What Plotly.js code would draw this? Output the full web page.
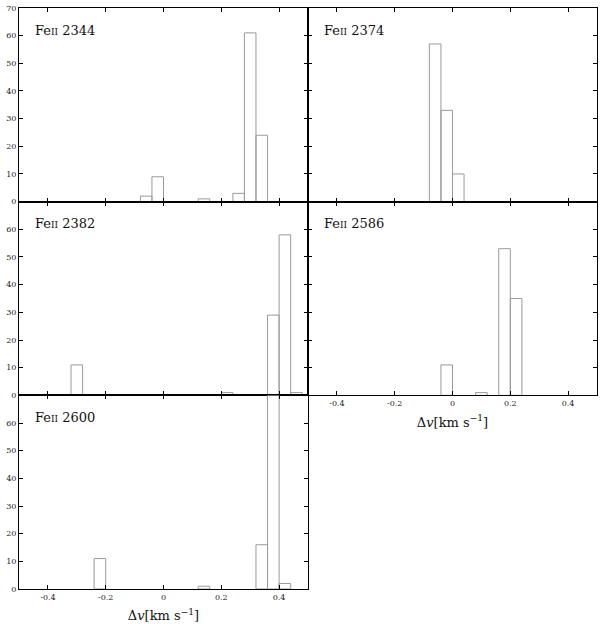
<!DOCTYPE html>
<html>
<head>
<meta charset="utf-8">
<script src="https://cdn.plot.ly/plotly-3.0.1.min.js"></script>
<style>body{margin:0;background:#fff}</style>
</head>
<body>
<div id="chart" style="width:600px;height:624px"></div>
<script>
// histogram bins: left edge of each bin (km/s) and the count in it
const binWidth = 0.04;
const lineNames = ['2344', '2374', '2382', '2586', '2600'];
const edges2344 = [-0.08, -0.04, 0.12, 0.24, 0.28, 0.32];
const counts2344 = [2, 9, 1, 3, 61, 24];
const edges2374 = [-0.08, -0.04, 0.00];
const counts2374 = [57, 33, 10];
const edges2382 = [-0.32, 0.20, 0.36, 0.40, 0.44];
const counts2382 = [11, 1, 29, 58, 1];
const edges2586 = [-0.04, 0.08, 0.16, 0.20];
const counts2586 = [11, 1, 53, 35];
const edges2600 = [-0.24, 0.12, 0.32, 0.36, 0.40];
const counts2600 = [11, 1, 16, 70, 2];

const xTicks = [-0.4, -0.2, 0, 0.2, 0.4];
const xTickText = ['-0.4', '-0.2', '0', '0.2', '0.4'];
const yTicksTop = [0, 10, 20, 30, 40, 50, 60, 70];
const yTicks = [0, 10, 20, 30, 40, 50, 60];

const allEdges = [edges2344, edges2374, edges2382, edges2586, edges2600];
const allCounts = [counts2344, counts2374, counts2382, counts2586, counts2600];

const serif = 'DejaVu Serif';

let traces = [];
for (let i = 0; i < 5; i++) {
    const n = i === 0 ? '' : String(i + 1);
    traces.push({
        type: 'bar',
        x: allEdges[i].map(e => e + binWidth / 2),
        y: allCounts[i],
        width: binWidth,
        xaxis: 'x' + n,
        yaxis: 'y' + n,
        marker: {color: 'rgba(255,255,255,0)', line: {color: '#9a9a9a', width: 1}},
        showlegend: false,
        hoverinfo: 'x+y'
    });
}

// subplot positions: [x domain, y domain]
const cols = [[0, 0.5], [0.5, 1]];
const rows = [[0.6667, 1], [0.3333, 0.6667], [0, 0.3333]];
const cells = [[0, 0], [1, 0], [0, 1], [1, 1], [0, 2]];

let layout = {
    width: 600,
    height: 624,
    margin: {l: 19, r: 3, t: 8, b: 35},
    paper_bgcolor: 'white',
    plot_bgcolor: 'white',
    font: {family: serif, color: '#222'},
    bargap: 0,
    annotations: []
};

for (let i = 0; i < 5; i++) {
    const n = i === 0 ? '' : String(i + 1);
    const c = cells[i];
    const showX = (i === 3 || i === 4);
    const showY = (c[0] === 0);
    let xa = {
        domain: cols[c[0]],
        anchor: 'y' + n,
        range: [-0.5, 0.5],
        tickvals: xTicks,
        ticktext: xTickText,
        showticklabels: showX,
        ticks: 'inside',
        ticklen: 4,
        tickcolor: '#000',
        tickfont: {family: serif, size: 8, color: '#222'},
        showline: true,
        linecolor: '#000',
        linewidth: 1,
        mirror: 'ticks',
        showgrid: false,
        zeroline: false
    };
    if (showX) {
        xa.title = {
            text: 'Δ<i>v</i>[km s<sup>−1</sup>]',
            font: {family: serif, size: 13, color: '#111'},
            standoff: 10
        };
    }
    layout['xaxis' + n] = xa;
    layout['yaxis' + n] = {
        domain: rows[c[1]],
        anchor: 'x' + n,
        range: [0, 70],
        tickvals: i === 0 ? yTicksTop : yTicks,
        showticklabels: showY,
        ticks: 'inside',
        ticklen: 4,
        tickcolor: '#000',
        tickfont: {family: serif, size: 8, color: '#222'},
        showline: true,
        linecolor: '#000',
        linewidth: 1,
        mirror: 'ticks',
        showgrid: false,
        zeroline: false
    };
    layout.annotations.push({
        xref: 'x' + n + ' domain',
        yref: 'y' + n + ' domain',
        x: 0.05,
        y: 0.885,
        xanchor: 'left',
        yanchor: 'middle',
        showarrow: false,
        text: 'Fe<span style="font-size:9px">II</span> ' + lineNames[i],
        font: {family: serif, size: 13, color: '#111'}
    });
}

Plotly.newPlot('chart', traces, layout, {staticPlot: true});
</script>
</body>
</html>
